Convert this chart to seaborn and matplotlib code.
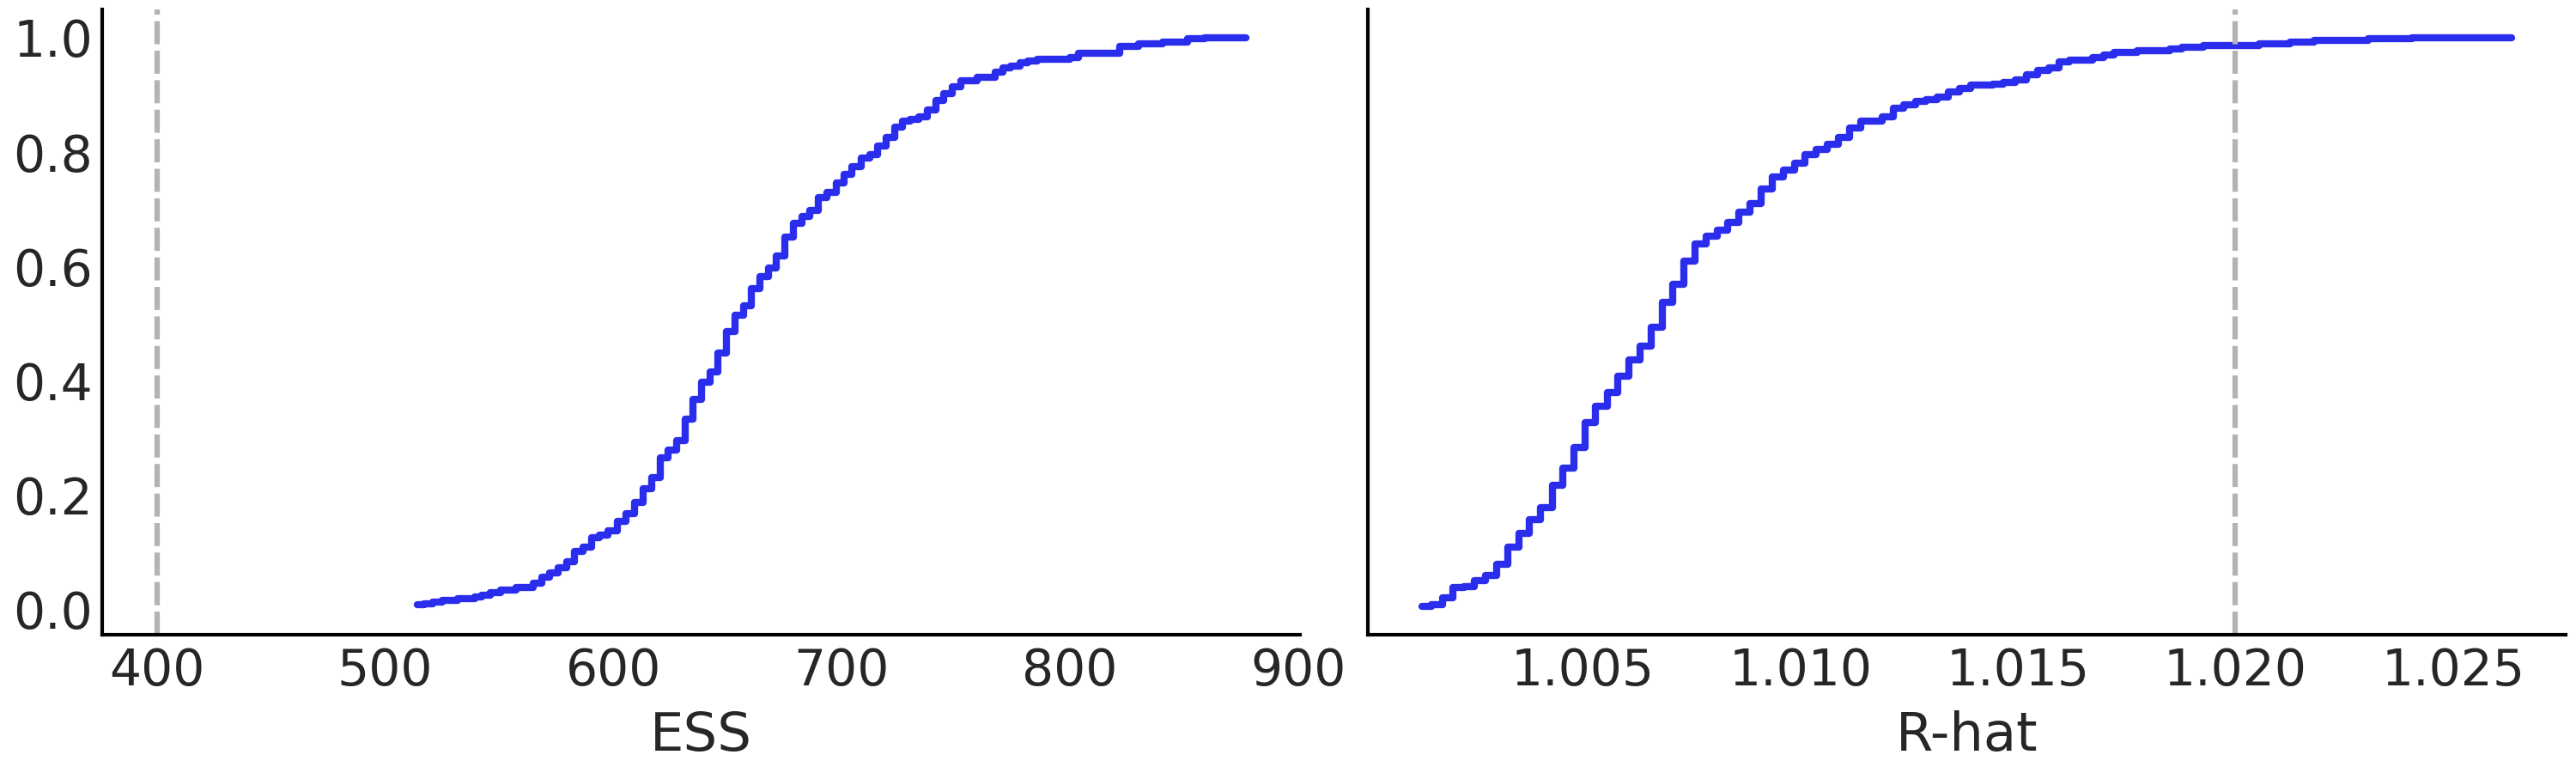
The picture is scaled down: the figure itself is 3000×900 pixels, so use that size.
import matplotlib
matplotlib.use("Agg")
import matplotlib.pyplot as plt
import seaborn as sns

# ECDF levels, one entry per step (right end of each flat run)
ess_x = [514.0, 517.0, 520.8, 525.1, 531.9, 539.4, 542.5, 546.2, 550.6, 557.4,
         564.9, 568.6, 571.9, 575.8, 579.4, 582.8, 586.6, 590.3, 594.0, 597.7,
         601.8, 605.5, 609.3, 613.1, 616.8, 620.4, 624.1, 627.7, 631.3, 635.0,
         638.8, 642.5, 645.9, 649.7, 653.3, 657.0, 660.3, 664.2, 668.0, 671.4,
         675.1, 678.9, 682.7, 686.2, 689.8, 693.7, 697.5, 700.9, 704.6, 708.4,
         712.2, 715.6, 719.4, 723.1, 726.6, 730.1, 733.8, 737.6, 741.3, 744.7,
         748.5, 752.3, 759.4, 767.1, 770.7, 774.2, 778.0, 781.7, 785.5, 799.9,
         803.7, 821.9, 830.0, 840.7, 851.4, 858.9, 877.1]
ess_cdf = [0.008, 0.008, 0.010, 0.013, 0.016, 0.019, 0.022, 0.025, 0.030, 0.034,
           0.039, 0.047, 0.057, 0.064, 0.073, 0.084, 0.102, 0.109, 0.126, 0.130,
           0.138, 0.155, 0.168, 0.187, 0.212, 0.231, 0.266, 0.279, 0.296, 0.333,
           0.368, 0.397, 0.416, 0.449, 0.487, 0.515, 0.531, 0.561, 0.583, 0.598,
           0.618, 0.652, 0.675, 0.688, 0.698, 0.721, 0.730, 0.746, 0.761, 0.774,
           0.790, 0.796, 0.810, 0.825, 0.844, 0.854, 0.857, 0.861, 0.873, 0.890,
           0.902, 0.914, 0.925, 0.931, 0.940, 0.947, 0.951, 0.957, 0.960, 0.963,
           0.966, 0.973, 0.985, 0.989, 0.992, 0.998, 1.000]

rhat_x = [1.00130, 1.00152, 1.00177, 1.00200, 1.00226, 1.00250, 1.00276, 1.00302,
          1.00327, 1.00352, 1.00377, 1.00403, 1.00429, 1.00454, 1.00479, 1.00504,
          1.00529, 1.00556, 1.00580, 1.00606, 1.00632, 1.00657, 1.00682, 1.00706,
          1.00731, 1.00758, 1.00783, 1.00809, 1.00832, 1.00859, 1.00884, 1.00910,
          1.00936, 1.00960, 1.00986, 1.01010, 1.01036, 1.01061, 1.01087, 1.01112,
          1.01139, 1.01188, 1.01213, 1.01238, 1.01264, 1.01289, 1.01315, 1.01340,
          1.01365, 1.01392, 1.01443, 1.01466, 1.01493, 1.01519, 1.01545, 1.01570,
          1.01595, 1.01618, 1.01671, 1.01698, 1.01721, 1.01774, 1.01850, 1.01876,
          1.01927, 1.02054, 1.02126, 1.02181, 1.02306, 1.02406, 1.02634]
rhat_cdf = [0.006, 0.006, 0.009, 0.020, 0.039, 0.040, 0.051, 0.060, 0.080, 0.109,
            0.134, 0.157, 0.179, 0.218, 0.247, 0.284, 0.327, 0.356, 0.379, 0.408,
            0.437, 0.461, 0.494, 0.538, 0.569, 0.609, 0.640, 0.653, 0.663, 0.677,
            0.695, 0.710, 0.736, 0.756, 0.768, 0.781, 0.796, 0.804, 0.814, 0.826,
            0.842, 0.854, 0.862, 0.876, 0.882, 0.889, 0.891, 0.896, 0.905, 0.911,
            0.917, 0.919, 0.922, 0.927, 0.936, 0.943, 0.948, 0.958, 0.961, 0.966,
            0.970, 0.975, 0.978, 0.981, 0.984, 0.986, 0.990, 0.993, 0.996, 0.999,
            1.000]

ess_ref = 400
rhat_ref = 1.02

sns.set_theme(style="white")
plt.rcParams["font.family"] = ["DejaVu Sans"]
plt.rcParams["axes.edgecolor"] = "black"
plt.rcParams["axes.linewidth"] = 1.0

fig, (ax_ess, ax_rhat) = plt.subplots(1, 2, figsize=(10, 3), dpi=300, sharey=True)
fig.subplots_adjust(left=0.0397, right=0.996, bottom=0.179, top=0.988, wspace=0.056)

panels = [(ax_ess, ess_x, ess_cdf, ess_ref, "ESS"),
          (ax_rhat, rhat_x, rhat_cdf, rhat_ref, "R-hat")]

for ax, x, y, ref, label in panels:
    sns.lineplot(x=x, y=y, ax=ax, color="#2a2eec", lw=2,
                 drawstyle="steps-pre", solid_capstyle="round")
    ax.axvline(ref, color="0.7", lw=1.5, ls=(0, (4.3, 1.2)))
    ax.set_xlabel(label, fontsize=15, color=".15")
    ax.set_ylabel("")
    ax.ticklabel_format(axis="x", useOffset=False)
    ax.tick_params(length=0, labelsize=14, labelcolor=".15")
    ax.tick_params(axis="y", pad=2.6)
    sns.despine(ax=ax)

fig.savefig("out.png", dpi=300)
